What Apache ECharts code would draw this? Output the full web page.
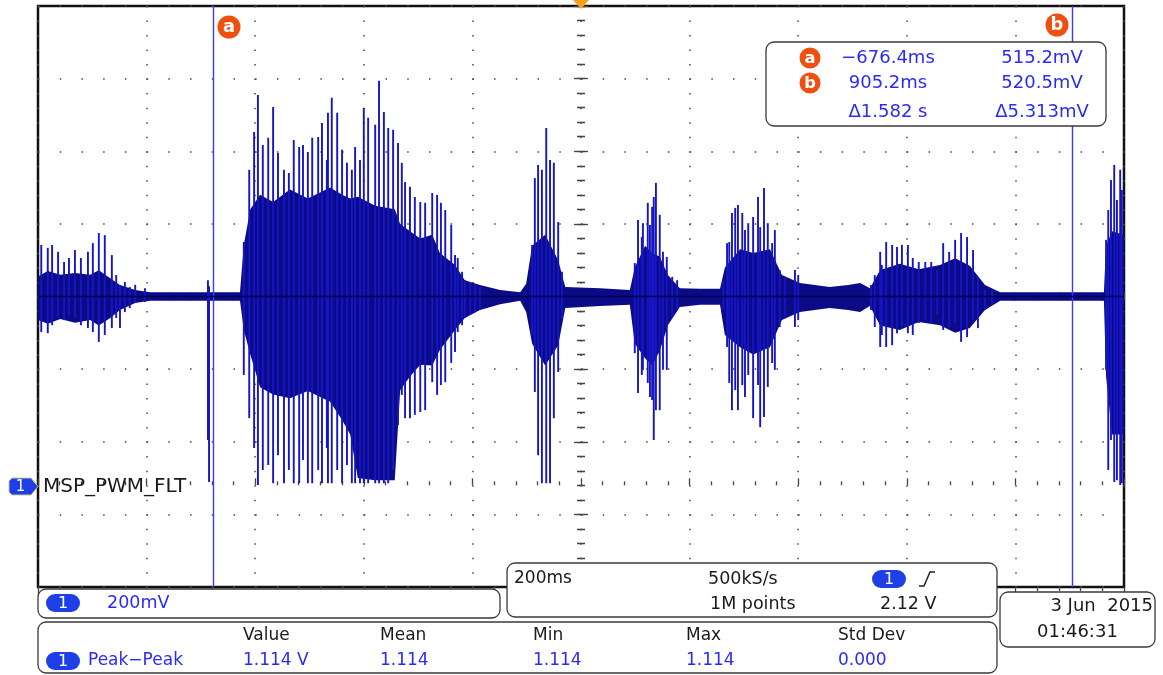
<!DOCTYPE html>
<html>
<head>
<meta charset="utf-8">
<style>
  html, body { margin: 0; padding: 0; background: #fff; }
  #scope { width: 1163px; height: 675px; }
</style>
<script src="https://cdn.jsdelivr.net/npm/echarts@6/dist/echarts.min.js"></script>
</head>
<body>
<div id="scope"></div>
<script>
// time in ms, voltage in mV (200mV/div, 200ms/div)
const timeMin = -1000, timeMax = 1000, timeStep = 200
const voltMin = -280, voltMax = 1320
const baselineMv = 520

// individual spikes: time, top, bottom
const spikeT = [
  -994, -982, -974, -963, -952, -943, -932, -921, -908, -899, -888, -877, -864, -856, -849, -840, -831, -821, -803,
  -687, -685,
  -621, -611, -602, -595, -586, -576, -567, -558, -547, -538, -529, -519, -512, -503, -495, -484, -477, -468, -466,
  -459, -449, -440, -431, -422, -416, -407, -400, -392, -379, -372, -363, -355, -346, -337, -330, -324, -315, -306,
  -296, -287, -274, -265, -258, -250, -239, -232, -227, -219, -214, -204, -195, -186,
  -90, -85, -79, -72, -64, -57, -50, -42, -35,
  99, 105, 112, 114, 123, 127, 131, 134, 138, 145, 151, 158, 168, 177,
  262, 269, 273, 278, 284, 289, 297, 302, 308, 317, 326, 330, 337, 344, 352, 357, 366, 376, 394, 400,
  534, 541, 551, 554, 562, 573, 582, 591, 602, 611, 622, 634, 645, 656, 667, 678, 689, 700, 711, 722, 731, 744, 757,
  967, 971, 976, 982, 987, 993, 996
]
const spikeHi = [
  662, 654, 662, 643, 615, 626, 648, 626, 643, 667, 695, 689, 634, 579, 552, 560, 546, 552, 543,
  565, 548,
  670, 869, 973, 1075, 937, 957, 1042, 915, 869, 860, 951, 932, 937, 918, 957, 959, 998, 896, 1026,
  1067, 1026, 924, 888, 869, 932, 896, 1039, 1012, 993, 1114, 1028, 984, 979, 943, 888, 835, 822, 794,
  780, 778, 805, 800, 778, 758, 717, 634, 626, 588, 565, 560, 552, 546,
  662, 846, 882, 869, 984, 896, 888, 725, 588,
  612, 731, 684, 722, 778, 717, 767, 794, 833, 745, 643, 629, 574, 565,
  565, 667, 670, 750, 764, 772, 750, 703, 722, 739, 794, 711, 819, 722, 667, 703, 593, 574, 593, 579,
  552, 579, 643, 607, 670, 662, 656, 662, 662, 626, 615, 615, 615, 593, 667, 643, 676, 695, 684, 648, 574, 538, 538,
  676, 758, 841, 882, 786, 869, 813
]
const spikeLo = [
  422, 419, 441, 461, 455, 469, 461, 441, 433, 422, 395, 414, 433, 461, 433, 477, 488, 502, 505,
  125, 9,
  304, 185, 103, 1, 42, 56, 6, 83, 6, 42, 6, 6, 70, 6, 6, 42, 6, 103, 6,
  6, 42, 6, 56, 6, 6, 6, 6, 6, 6, 6, 6, 6, 42, 166, 249, 185, 185, 194,
  202, 207, 284, 249, 276, 284, 337, 367, 422, 441, 461, 469, 477, 483,
  414, 257, 83, 6, 6, 6, 185, 312, 461,
  364, 254, 304, 318, 282, 243, 235, 125, 207, 207, 318, 318, 464, 483,
  483, 381, 282, 207, 262, 207, 276, 243, 304, 185, 276, 160, 188, 271, 337, 318, 436, 464, 436, 455,
  483, 436, 381, 414, 381, 386, 419, 436, 419, 414, 447, 455, 447, 469, 428, 436, 447, 395, 408, 455, 433, 483, 497,
  318, 42, 125, 9, 14, 1, 6
]

// dense part of the trace (envelope of the filled band)
const coreT = [
  -1000, -982, -959, -932, -904, -888, -867, -849, -821, -794, -628, -621, -609, -591, -567, -536, -503, -462,
  -440, -425, -411, -379, -343, -333, -315, -296, -274, -260, -232, -214, -186, -149, -112, -101, -90, -66, -42,
  -29, 35, 90, 99, 118, 131, 145, 160, 182, 219, 256, 265, 293, 317, 348, 370, 403, 458, 492, 514, 532, 551,
  587, 622, 661, 689, 716, 744, 772, 963, 967, 978, 1000
]
const coreHi = [
  575, 590, 580, 585, 580, 592, 570, 552, 538, 532, 532, 662, 760, 800, 780, 815, 790, 820,
  800, 790, 795, 770, 760, 720, 700, 680, 690, 640, 607, 565, 552, 538, 532, 555, 660, 690, 620,
  546, 543, 538, 600, 660, 640, 630, 579, 543, 541, 541, 600, 650, 640, 650, 579, 557, 546, 552, 557, 543, 593,
  610, 595, 607, 625, 605, 552, 532, 532, 660, 700, 690
]
const coreLo = [
  455, 445, 458, 448, 455, 440, 461, 483, 502, 508, 508, 428, 360, 270, 250, 240, 260, 230,
  180, 140, 20, 14, 14, 262, 300, 332, 330, 373, 428, 461, 483, 499, 508, 477, 390, 330, 386,
  488, 494, 497, 390, 350, 330, 370, 441, 491, 497, 497, 414, 380, 360, 380, 455, 477, 488, 483, 477, 494, 440,
  428, 450, 441, 420, 433, 483, 508, 508, 300, 140, 140
]

const cursorT = [-676.4, 905.2]
const readoutTime = ['\u2212676.4ms', '905.2ms', '\u03941.582 s']
const readoutVolt = ['515.2mV', '520.5mV', '\u03945.313mV']
const measHeads = ['Value', 'Mean', 'Min', 'Max', 'Std Dev']
const measVals = ['1.114 V', '1.114', '1.114', '1.114', '0.000']

const BLUE_TXT = '#2b2bf5'
const PILL = '#1f3fe6'
const ORANGE = '#f0500f'
const FONT = '"DejaVu Sans"'

const txt = (x, y, text, o = {}) => ({
  type: 'text', x, y, z: 110, silent: true,
  style: {
    text, fill: o.color || '#1a1a1a',
    font: `${o.weight || 'normal'} ${o.size || 17}px ${FONT}`,
    align: o.align || 'left', verticalAlign: 'middle',
    textAlign: o.align || 'left', textVerticalAlign: 'middle'
  }
})
const box = (x, y, w, h) => ({
  type: 'rect', z: 100, silent: true,
  shape: { x, y, width: w, height: h, r: 8 },
  style: { fill: '#fff', stroke: '#3a3a3a', lineWidth: 1.3 }
})
const pill = (x, y) => [
  { type: 'rect', z: 105, silent: true, shape: { x, y, width: 34, height: 18, r: 9 }, style: { fill: PILL } },
  txt(x + 17, y + 9.5, '1', { color: '#fff', align: 'center', size: 16 })
]
const badge = (cx, cy, r, letter) => [
  { type: 'circle', z: 105, silent: true, shape: { cx, cy, r }, style: { fill: ORANGE } },
  txt(cx, cy + 0.5, letter, { color: '#fff', align: 'center', size: r * 1.55, weight: 'bold' })
]

const tickStyle = { color: '#444', width: 1.3 }
const gratAxis = (extra) => Object.assign({
  axisLine: { show: false },
  axisLabel: { show: false },
  axisTick: { show: true, inside: true, length: 7, lineStyle: tickStyle },
  minorTick: { show: true, splitNumber: 5, length: 4, lineStyle: tickStyle },
  splitLine: { show: false }
}, extra)

const chart = echarts.init(document.getElementById('scope'))

const graphics = [
  // trigger position marker
  { type: 'polygon', z: 105, silent: true, shape: { points: [[573, 0], [589, 0], [581, 9]] }, style: { fill: '#f5a21e' } },
  ...badge(229, 27, 11.5, 'a'),
  ...badge(1057, 25, 11.5, 'b'),
  // cursor readout
  box(766, 42, 340, 84),
  ...badge(810, 58, 10.5, 'a'),
  ...badge(810, 83, 10.5, 'b'),
  ...readoutTime.map((s, i) => txt(888, [58, 83, 112][i], s, { color: BLUE_TXT, align: 'center', size: 18 })),
  ...readoutVolt.map((s, i) => txt(1042, [58, 83, 112][i], s, { color: BLUE_TXT, align: 'center', size: 18 })),
  // channel ground marker + label
  { type: 'polygon', z: 105, silent: true,
    shape: { points: [[12, 478], [31, 478], [38, 486.5], [31, 495], [12, 495], [9, 492], [9, 481]] },
    style: { fill: PILL, stroke: '#c8c88a', lineWidth: 1 } },
  txt(20.5, 487, '1', { color: '#fff', align: 'center', size: 15 }),
  txt(43, 487, 'MSP_PWM_FLT', { size: 20 }),
  // vertical scale box
  box(38, 589, 462, 29),
  ...pill(46, 594),
  txt(107, 603.5, '200mV', { color: BLUE_TXT, size: 17.5 }),
  // timebase box
  box(507, 563, 490, 54),
  txt(514, 579, '200ms', { size: 17 }),
  txt(708, 579, '500kS/s', { size: 17.5 }),
  txt(710, 604, '1M points', { size: 17.5 }),
  ...pill(872, 570),
  { type: 'polyline', z: 106, silent: true, shape: { points: [[919, 586], [924, 586], [930, 572], [935, 572]] },
    style: { stroke: '#222', lineWidth: 1.5, fill: null } },
  txt(880, 604, '2.12 V', { size: 17.5 }),
  // measurements box
  box(38, 622, 959, 51),
  ...measHeads.map((s, i) => txt([243, 380, 533, 686, 838][i], 636, s, { size: 17 })),
  ...pill(46, 652),
  txt(88, 661, 'Peak\u2212Peak', { color: BLUE_TXT, size: 17 }),
  ...measVals.map((s, i) => txt([243, 380, 533, 686, 838][i], 661, s, { color: BLUE_TXT, size: 17 })),
  // date box
  box(1000, 592, 155, 55),
  txt(1153, 606, '3 Jun  2015', { size: 18, align: 'right' }),
  txt(1037, 632, '01:46:31', { size: 18 })
]

chart.setOption({
  animation: false,
  backgroundColor: '#fff',
  grid: { left: 38, top: 6, width: 1086, height: 581, show: true, borderColor: '#111', borderWidth: 2.5, backgroundColor: '#fff' },
  xAxis: [
    gratAxis({ type: 'value', min: timeMin, max: timeMax, interval: timeStep, position: 'bottom',
      splitLine: { show: true, lineStyle: { color: '#4a4a4a', width: 1.5, type: [1.5, 13.02] } } }),
    gratAxis({ type: 'value', min: timeMin, max: timeMax, interval: timeStep, position: 'top' }),
    gratAxis({ type: 'value', min: timeMin, max: timeMax, interval: timeStep, position: 'bottom', offset: -290.5,
      axisTick: { show: true, inside: true, length: 4, lineStyle: tickStyle } }),
    gratAxis({ type: 'value', min: timeMin, max: timeMax, interval: timeStep, position: 'bottom', offset: -290.5,
      axisTick: { show: true, inside: false, length: 4, lineStyle: tickStyle },
      minorTick: { show: true, splitNumber: 5, length: 4, lineStyle: tickStyle } })
  ],
  yAxis: [
    { type: 'value', min: voltMin, max: voltMax, show: false },
    gratAxis({ type: 'value', min: 0, max: 8, interval: 1, position: 'left',
      splitLine: { show: true, lineStyle: { color: '#4a4a4a', width: 1.5, type: [1.5, 20.22] } } }),
    gratAxis({ type: 'value', min: 0, max: 8, interval: 1, position: 'right' }),
    gratAxis({ type: 'value', min: 0, max: 8, interval: 1, position: 'left', offset: -543,
      axisTick: { show: true, inside: true, length: 4, lineStyle: tickStyle } }),
    gratAxis({ type: 'value', min: 0, max: 8, interval: 1, position: 'left', offset: -543,
      axisTick: { show: true, inside: false, length: 4, lineStyle: tickStyle } })
  ],
  series: [
    {
      // dense band of the waveform
      type: 'custom', xAxisIndex: 0, yAxisIndex: 0, silent: true, z: 3,
      data: [[0, baselineMv]],
      renderItem: (params, api) => {
        const top = coreT.map((t, i) => api.coord([t, coreHi[i]]))
        const bot = coreT.map((t, i) => api.coord([t, coreLo[i]])).reverse()
        return { type: 'polygon', shape: { points: top.concat(bot) }, style: { fill: '#0b0b88' } }
      }
    },
    {
      // spikes
      type: 'custom', xAxisIndex: 0, yAxisIndex: 0, silent: true, z: 4,
      data: spikeT.map((t, i) => [t, spikeHi[i], spikeLo[i]]),
      encode: { x: 0, y: [1, 2] },
      renderItem: (params, api) => {
        const p1 = api.coord([api.value(0), api.value(1)])
        const p2 = api.coord([api.value(0), api.value(2)])
        return { type: 'line', shape: { x1: p1[0], y1: p1[1], x2: p2[0], y2: p2[1] },
          style: { stroke: '#1616c4', lineWidth: 1.9 } }
      }
    },
    {
      // trace centre + cursors
      type: 'line', xAxisIndex: 0, yAxisIndex: 0, silent: true, z: 5,
      symbol: 'none',
      data: [[timeMin, baselineMv], [timeMax, baselineMv]],
      lineStyle: { color: '#000050', width: 1.3 },
      markLine: {
        silent: true, symbol: 'none', label: { show: false },
        lineStyle: { color: '#3b3bff', width: 1.4, type: 'solid' },
        data: cursorT.map(t => ({ xAxis: t }))
      }
    }
  ],
  graphic: { elements: graphics }
})
</script>
</body>
</html>
